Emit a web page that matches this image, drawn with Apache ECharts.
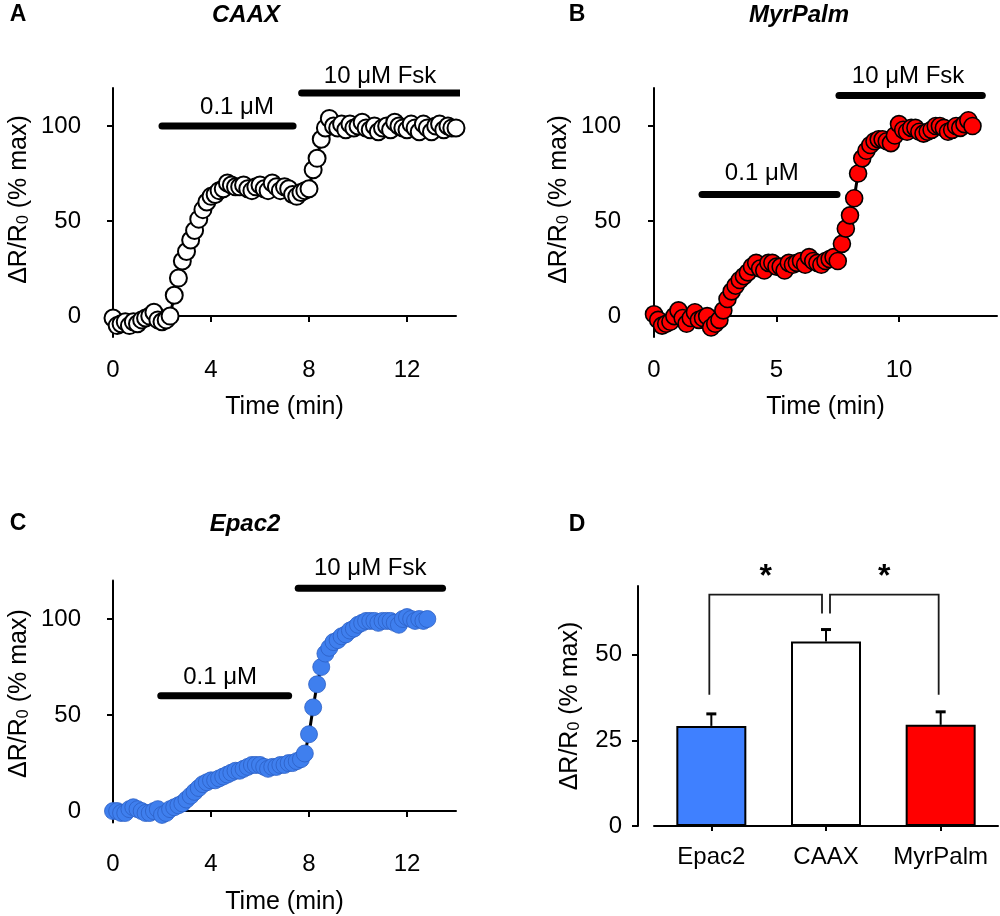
<!DOCTYPE html>
<html>
<head>
<meta charset="utf-8">
<script src="https://cdn.jsdelivr.net/npm/echarts@6/dist/echarts.min.js"></script>
<style>
html,body{margin:0;padding:0;background:#fff;}
#chart{width:1000px;height:916px;}
</style>
</head>
<body>
<div id="chart"></div>
<script>
// ---------- DATA ----------
const sampleTimes = [0, 0.17, 0.33, 0.5, 0.67, 0.83, 1, 1.17, 1.33, 1.5, 1.67, 1.83, 2, 2.17, 2.33, 2.5, 2.67, 2.83, 3, 3.17, 3.33, 3.5, 3.67, 3.83, 4, 4.17, 4.33, 4.5, 4.67, 4.83, 5, 5.17, 5.33, 5.5, 5.67, 5.83, 6, 6.17, 6.33, 6.5, 6.67, 6.83, 7, 7.17, 7.33, 7.5, 7.67, 7.83, 8, 8.17, 8.33, 8.5, 8.67, 8.83, 9, 9.17, 9.33, 9.5, 9.67, 9.83, 10, 10.17, 10.33, 10.5, 10.67, 10.83, 11, 11.17, 11.33, 11.5, 11.67, 11.83, 12, 12.17, 12.33, 12.5, 12.67, 12.83, 13, 13.17, 13.33, 13.5, 13.67, 13.83, 14];

const caaxValues = [-1,-5,-4,-3,-5,-3,-4,-2,-1,0, 2,-2,-3,-2,0,11,20,29,34,40, 45,51,56,60,63,64,66,67,70,69, 68,68,69,67,66,68,69,67,66,70, 68,66,68,67,64,63,65,66,67,77, 83,93,99,104,100,99,101,98,101,99, 100,102,99,98,100,97,99,100,98,102, 100,99,98,101,99,97,101,99,97,100, 101,98,100,99,99];

const myrPalmValues = [1,-2,-5,-4,-3,0,3,-1,-4,-1, 2,-2,-1,0,-6,-4,-2,3,9,13, 16,19,21,23,26,28,25,24,28,28, 26,26,24,28,27,28,29,27,31,29, 28,27,29,30,31,29,38,46,53,62, 75,83,87,90,92,93,93,92,91,95, 101,98,97,99,99,97,96,97,98,100, 100,99,97,98,100,99,101,103,100];

const epac2Values = [0,0,-1,-1,1,2,1,0,-1,-1, 0,1,-2,-1,1,2,3,4,6,8, 10,12,14,15,16,16,17,18,19,20, 21,21,22,23,24,24,24,23,22,23, 23,24,24,25,25,26,27,30,40,54, 66,75,82,85,88,89,91,92,94,95, 97,98,99,99,99,98,99,99,99,98, 97,100,101,100,99,100,99,100];

// drug application bars: [start, end, level]
const drugBarsA = [[2.0, 7.35, 100], [7.7, 14.2, 117.4]];
const drugBarsB = [[1.96, 7.47, 64], [7.55, 13.4, 116]];
const drugBarsC = [[1.95, 7.17, 60], [7.56, 13.45, 116]];
const drugLabels = ['0.1 μM', '10 μM Fsk'];
const drugLabelPosA = [[5.06, 110], [10.9, 126.3]];
const drugLabelPosB = [[4.4, 75.3], [10.37, 126.3]];
const drugLabelPosC = [[4.37, 69.8], [10.5, 126.5]];

// tick labels
const xTicksA = [0, 4, 8, 12];
const xTicksB = [0, 5, 10];
const xTicksC = [0, 4, 8, 12];
const yTicksTrace = [0, 50, 100];
const yTicksD = [0, 25, 50];

// panel D
const groups = ['Epac2', 'CAAX', 'MyrPalm'];
const groupMeans = [29.2, 53.8, 29.5];
const groupErrors = [3.5, 3.5, 3.8];
const groupColors = ['#3f80ff', '#ffffff', '#ff0000'];
// significance brackets: [fromIndex, toIndex, top, leftLegEnd, rightLegEnd]
const sigBrackets = [[0, 1, 67.5, 38.3, 62], [1, 2, 67.5, 62, 38.3]];
const sigMarks = ['*', '*'];

// ---------- CHART ----------
const FONT = 'Liberation Sans';
const TICK_FS = 24, NAME_FS = 25;
const chart = echarts.init(document.getElementById('chart'));
const toPairs = vals => vals.map((v, i) => [sampleTimes[i], v]);

const yName = 'ΔR/R{s|0} (% max)';
const nameStyle = (shift) => ({fontSize: NAME_FS, color: '#000', fontFamily: FONT, padding: [0, 0, 0, shift],
  rich: {s: {fontSize: 16, lineHeight: 10, verticalAlign: 'bottom', color: '#000', fontFamily: FONT}}});
const axisLineStyle = {show: true, lineStyle: {color: '#000', width: 2}};
const tickStyle = (vals, len) => ({show: true, length: len, inside: false, customValues: vals, lineStyle: {color: '#000', width: 2}});
const labelStyle = (vals, margin) => ({fontSize: TICK_FS, color: '#000', fontFamily: FONT, margin: margin, customValues: vals});

function xValueAxis(grid, max, ticks, offset) {
  return {type: 'value', gridIndex: grid, min: 0, max: max, offset: offset,
    axisLine: axisLineStyle, axisTick: tickStyle(ticks, 6), axisLabel: labelStyle(ticks, 19),
    splitLine: {show: false}, name: 'Time (min)', nameLocation: 'middle', nameGap: 56,
    nameTextStyle: {fontSize: NAME_FS, color: '#000', fontFamily: FONT}};
}
function yValueAxis(grid, min, max, ticks, offset, gap, shift) {
  return {type: 'value', gridIndex: grid, min: min, max: max, offset: offset,
    axisLine: axisLineStyle, axisTick: tickStyle(ticks, 6), axisLabel: labelStyle(ticks, 16),
    splitLine: {show: false}, name: yName, nameLocation: 'middle', nameRotate: 90, nameGap: gap,
    nameTextStyle: nameStyle(shift)};
}

function traceSeries(idx, vals, fill, border, bw) {
  return {type: 'line', xAxisIndex: idx, yAxisIndex: idx, data: toPairs(vals),
    symbol: 'circle', symbolSize: 17, showAllSymbol: true, clip: false, z: 3,
    lineStyle: {color: '#000', width: 3},
    itemStyle: {color: fill, borderColor: border, borderWidth: bw},
    emphasis: {disabled: true}, silent: true};
}
function drugSeries(idx, bars, pos) {
  const out = bars.map(b => ({type: 'line', xAxisIndex: idx, yAxisIndex: idx,
    data: [[b[0], b[2]], [b[1], b[2]]], symbol: 'none', clip: false, z: 4,
    lineStyle: {color: '#000', width: 7, cap: 'round'}, silent: true}));
  out.push({type: 'custom', xAxisIndex: idx, yAxisIndex: idx, clip: false, z: 5, silent: true,
    data: pos.map((p, i) => [p[0], p[1], i]),
    renderItem: function (params, api) {
      const c = api.coord([api.value(0), api.value(1)]);
      return {type: 'text', x: c[0], y: c[1],
        style: {text: drugLabels[api.value(2)], font: '24px "Liberation Sans"', fill: '#000',
          textAlign: 'center', textVerticalAlign: 'middle'}};
    }});
  return out;
}

const titleFont = 'italic bold 24px "Liberation Sans"';
const letterFont = 'bold 23px "Liberation Sans"';
const option = {
  animation: false,
  textStyle: {fontFamily: FONT},
  grid: [
    {left: 113, top: 88, width: 343, height: 249},
    {left: 654, top: 88, width: 343, height: 249},
    {left: 113, top: 580.6, width: 343, height: 242},
    {left: 654, top: 586, width: 344, height: 240}
  ],
  xAxis: [
    xValueAxis(0, 14, xTicksA, 2),
    xValueAxis(1, 14, xTicksB, 2),
    xValueAxis(2, 14, xTicksC, 11),
    {type: 'category', gridIndex: 3, data: groups,
      axisLine: axisLineStyle,
      axisTick: {show: true, alignWithLabel: true, interval: 0, length: 5, lineStyle: {color: '#000', width: 2}},
      axisLabel: {interval: 0, hideOverlap: false, fontSize: TICK_FS, color: '#000', fontFamily: FONT, margin: 19}}
  ],
  yAxis: [
    yValueAxis(0, -11, 120, yTicksTrace, 16, 65, 26),
    yValueAxis(1, -11, 120, yTicksTrace, 17, 65, 26),
    yValueAxis(2, -6, 120, yTicksTrace, 16, 65, 16),
    yValueAxis(3, 0, 70, yTicksD, 16, 55, 0)
  ],
  graphic: [
    {type: 'text', x: 18, y: 15, style: {text: 'A', font: letterFont, fill: '#000', textAlign: 'center', textVerticalAlign: 'middle'}},
    {type: 'text', x: 246, y: 15, style: {text: 'CAAX', font: titleFont, fill: '#000', textAlign: 'center', textVerticalAlign: 'middle'}},
    {type: 'text', x: 577, y: 15, style: {text: 'B', font: letterFont, fill: '#000', textAlign: 'center', textVerticalAlign: 'middle'}},
    {type: 'text', x: 799, y: 15, style: {text: 'MyrPalm', font: titleFont, fill: '#000', textAlign: 'center', textVerticalAlign: 'middle'}},
    {type: 'text', x: 18, y: 524, style: {text: 'C', font: letterFont, fill: '#000', textAlign: 'center', textVerticalAlign: 'middle'}},
    {type: 'text', x: 245, y: 524, style: {text: 'Epac2', font: titleFont, fill: '#000', textAlign: 'center', textVerticalAlign: 'middle'}},
    {type: 'text', x: 577, y: 525, style: {text: 'D', font: letterFont, fill: '#000', textAlign: 'center', textVerticalAlign: 'middle'}}
  ],
  series: [
    traceSeries(0, caaxValues, '#ffffff', '#000', 2),
    ...drugSeries(0, drugBarsA, drugLabelPosA),
    traceSeries(1, myrPalmValues, '#ff0000', '#000', 1.6),
    ...drugSeries(1, drugBarsB, drugLabelPosB),
    traceSeries(2, epac2Values, '#3f7fee', '#2c5fc4', 0.8),
    ...drugSeries(2, drugBarsC, drugLabelPosC),
    {type: 'bar', xAxisIndex: 3, yAxisIndex: 3, barWidth: 70, silent: true,
      data: groupMeans.map((v, i) => ({value: v, itemStyle: {color: groupColors[i]}})),
      itemStyle: {borderColor: '#000', borderWidth: 2}},
    {type: 'custom', xAxisIndex: 3, yAxisIndex: 3, silent: true, z: 5,
      data: groupMeans.map((v, i) => [i, v, v + groupErrors[i]]),
      renderItem: function (params, api) {
        const base = api.coord([api.value(0), api.value(1)]);
        const top = api.coord([api.value(0), api.value(2)]);
        return {type: 'group', children: [
          {type: 'line', shape: {x1: base[0], y1: base[1], x2: top[0], y2: top[1]}, style: {stroke: '#000', lineWidth: 2}},
          {type: 'line', shape: {x1: top[0] - 5, y1: top[1], x2: top[0] + 5, y2: top[1]}, style: {stroke: '#000', lineWidth: 3}}
        ]};
      }},
    {type: 'custom', xAxisIndex: 3, yAxisIndex: 3, silent: true, clip: false, z: 5,
      data: sigBrackets,
      renderItem: function (params, api) {
        const i1 = api.value(0), i2 = api.value(1);
        const shared = 1;
        const c1 = api.coord([i1, api.value(2)]);
        const c2 = api.coord([i2, api.value(2)]);
        const l1 = api.coord([i1, api.value(3)]);
        const l2 = api.coord([i2, api.value(4)]);
        const x1 = c1[0] + (i1 === shared ? 4 : -2);
        const x2 = c2[0] + (i2 === shared ? -4 : -2);
        const topY = c1[1];
        return {type: 'group', children: [
          {type: 'polyline', shape: {points: [[x1, l1[1]], [x1, topY], [x2, topY], [x2, l2[1]]]},
            style: {stroke: '#1a1a1a', lineWidth: 1.8, fill: null}},
          {type: 'text', x: (x1 + x2) / 2, y: topY - 17,
            style: {text: sigMarks[params.dataIndex], font: 'bold 32px "Liberation Sans"', fill: '#000', textAlign: 'center', textVerticalAlign: 'middle'}}
        ]};
      }}
  ]
};
chart.setOption(option);
</script>
</body>
</html>
